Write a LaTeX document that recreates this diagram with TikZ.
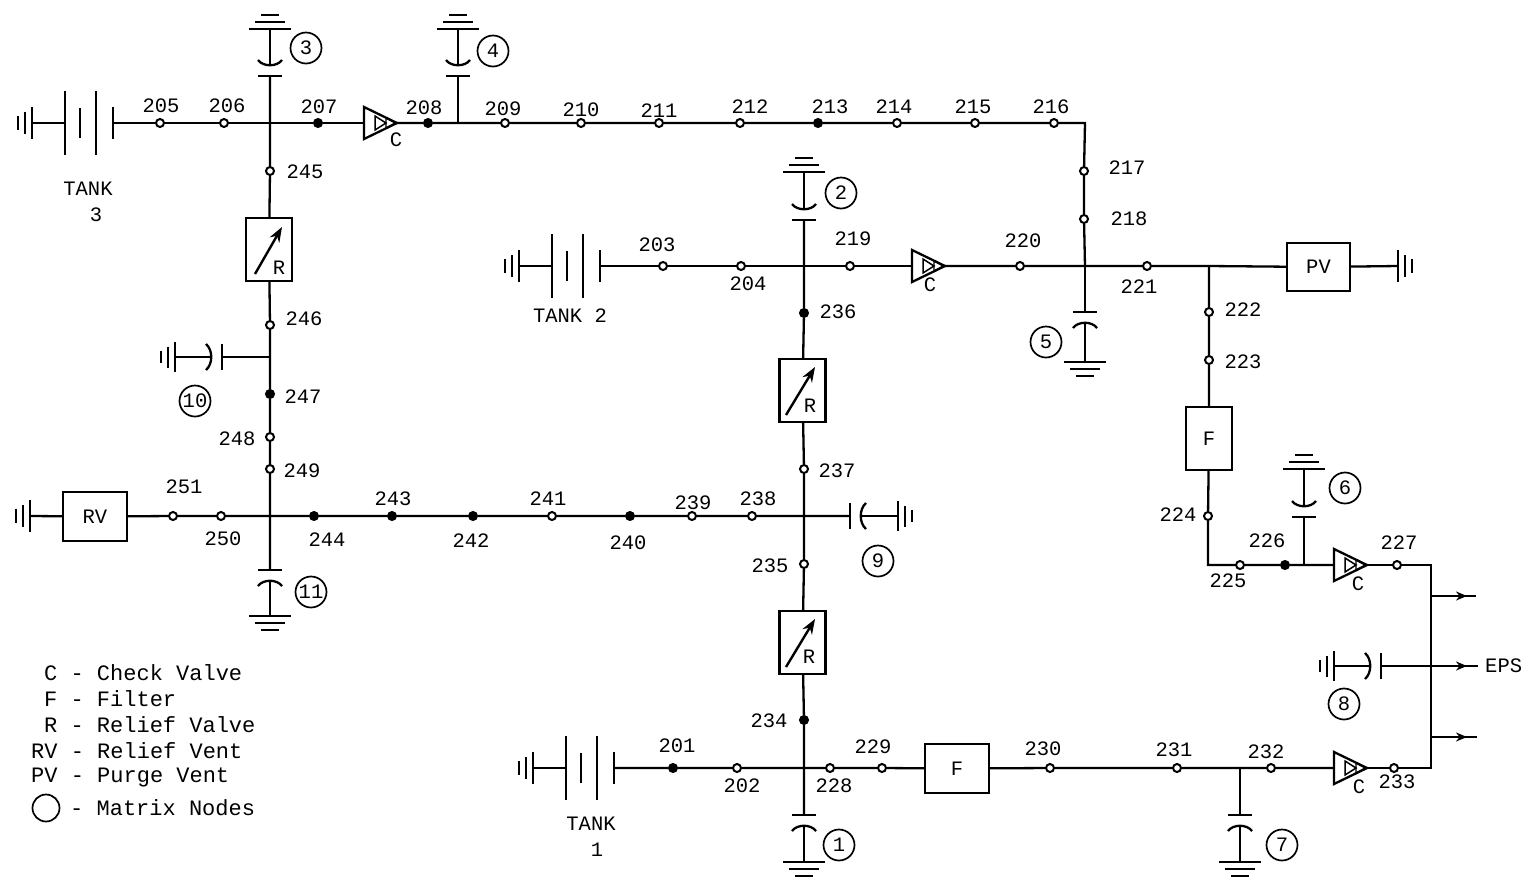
\documentclass[tikz,border=0pt]{standalone}
\usepackage{fontspec}
\usetikzlibrary{arrows.meta}
\newfontfamily\typew{Liberation Mono}
\newcommand{\labfont}{\fontsize{20.5}{24}\selectfont\typew}
\newcommand{\legfont}{\fontsize{22}{26}\selectfont\typew}
\tikzset{
  x=1pt,y=-1pt,
  wire/.style={line width=2.3pt},
  jo/.style={circle,draw,fill=white,inner sep=0pt,minimum size=8pt,line width=2pt},
  jc/.style={circle,draw,fill=black,inner sep=0pt,minimum size=9pt,line width=1pt},
  lbl/.style={font=\labfont,inner sep=0pt},
  leg/.style={font=\legfont,inner sep=0pt,anchor=west},
  mnode/.style={circle,draw,line width=1.7pt,minimum size=31pt,inner sep=0pt,font=\labfont},
  box/.style={rectangle,draw,line width=2.4pt,inner sep=0pt,font=\labfont},
  rvalve/.style={box,minimum width=46pt,minimum height=63pt},
  pics/gnd/.style={code={
    \draw[wire] (-#1,0)--(#1,0);
    \draw[wire] (-0.7*#1,7)--(0.7*#1,7);
    \draw[wire] (-0.42*#1,14)--(0.42*#1,14);
  }},
  pics/capa/.style={code={
    \coordinate (-a) at (0,0);
    \draw[wire] (-12,0)--(12,0);
    \draw[wire] (-12,16) .. controls (-7,9) and (7,9) .. (12,16);
    \draw[wire] (0,10)--(0,#1);
    \pic[transform shape] at (0,#1) {gnd=21};
  }},
  pics/capb/.style={code={
    \coordinate (-a) at (0,0);
    \draw[wire] (-13,0)--(13,0);
    \draw[wire] (-13,16) .. controls (-7,9) and (7,9) .. (13,16);
    \draw[wire] (0,10)--(0,#1);
    \pic[transform shape] at (0,#1) {gnd=15};
  }},
  pics/tank/.style={code={
    \coordinate (-end) at (48,0);
    \pic[rotate=-90] at (-33,0) {gnd=16};
    \draw[wire] (-33,0)--(0,0);
    \draw[wire] (0,-32)--(0,32);
    \draw[wire] (15,-15)--(15,15);
    \draw[wire] (31,-32)--(31,32);
    \draw[wire] (48,-16)--(48,16);
  }},
  pics/checkv/.style={code={
    \coordinate (-in) at (0,0);
    \coordinate (-out) at (33,0);
    \draw[wire,fill=white] (0,-16)--(0,16)--(33,0)--cycle;
    \draw[line width=1.5pt] (11,-7)--(11,7)--(22,0)--cycle;
    \draw[line width=1.2pt] (22,-5)--(22,5)--(31,0)--cycle;
  }}
}
\begin{document}
\begin{tikzpicture}
\useasboundingbox (0,0) rectangle (1524,879);

% junction marks
\foreach \n/\x/\y in {205/160/123,206/224/123,209/505/123,210/581/123,211/659/123,212/740/123,
  214/897/123,215/975/123,216/1054/123,217/1084/171,218/1084/219,245/270/171,246/270/325,
  248/270/437,249/270/469,251/173/516,250/221/516,241/552/516,239/692/516,238/752/516,
  203/663/266,204/741/266,219/850/266,220/1020/266,221/1147/266,222/1209/312,223/1209/360,
  224/1208/516,225/1240/565,227/1397/565,202/737/768,228/830/768,229/882/768,
  230/1050/768,231/1177/768,232/1271/768,233/1394/768,235/804/564,237/804/469}
  \node[jo] (p\n) at (\x,\y) {};
\foreach \n/\x/\y in {207/318/123,208/428/123,213/818/123,247/270/394,244/314/516,243/392/516,
  242/473/516,240/630/516,226/1285/565,201/673/768,236/804/313,234/804/720}
  \node[jc] (p\n) at (\x,\y) {};

% junction points of the pipes
\coordinate (x3) at (270,123);
\coordinate (x4) at (458,123);
\coordinate (c216) at (1085,123);
\coordinate (x5) at (1085,266);
\coordinate (x2) at (804,266);
\coordinate (xf) at (1209,266);
\coordinate (x10) at (270,357);
\coordinate (x11) at (270,516);
\coordinate (x9) at (804,516);
\coordinate (x1) at (804,768);
\coordinate (c224) at (1208,565);
\coordinate (x6) at (1304,565);
\coordinate (x7) at (1240,768);
\coordinate (tr) at (1431,565);
\coordinate (br) at (1431,768);
\coordinate (b1) at (1431,596);
\coordinate (b2) at (1431,666);
\coordinate (b3) at (1431,737);
\coordinate (o1m) at (1467,596);
\coordinate (o2m) at (1467,666);
\coordinate (o3m) at (1467,737);
\coordinate (o1) at (1476,596);
\coordinate (o2) at (1478,666);
\coordinate (o3) at (1477,737);

% boxes
\node[rvalve] (r3) at (269,249.5) {};
\node[rvalve] (r2) at (802.5,390.5) {};
\node[rvalve] (r1) at (802.5,642.5) {};
\node[box,minimum width=64pt,minimum height=49pt] (rv) at (95,516.5) {RV};
\node[box,minimum width=63pt,minimum height=48pt] (pv) at (1318.5,267) {PV};
\node[box,minimum width=46pt,minimum height=63pt] (f1) at (1209,438.5) {F};
\node[box,minimum width=64pt,minimum height=49pt] (f2) at (957,768.5) {F};

% tanks, capacitors, check valves
\pic (tk3) at (65,123) {tank};
\pic (tk2) at (552,266) {tank};
\pic (tk1) at (566,768) {tank};
\pic[rotate=180] (cp3) at (270,76) {capa=47};
\pic[rotate=180] (cp4) at (458,76) {capa=47};
\pic[rotate=180] (cp2) at (804,220) {capa=48};
\pic[rotate=180] (cp6) at (1304,517) {capa=48};
\pic (cp5) at (1085,312) {capa=50};
\pic (cp11) at (270,570) {capa=46};
\pic (cp1) at (804,815) {capa=47};
\pic (cp7) at (1240,815) {capa=47};
\pic[rotate=-90] (cp10) at (222,357) {capb=47};
\pic[rotate=-90] (cp8) at (1381,666) {capb=47};
\pic[rotate=90] (cp9) at (850,516) {capb=48};
\pic (cv3) at (364,123) {checkv};
\pic (cv2) at (912,266) {checkv};
\pic (cv6) at (1334,565) {checkv};
\pic (cv7) at (1334,768) {checkv};

% vents
\pic[rotate=-90] at (30,516) {gnd=16};
\pic[rotate=90] at (1398,266) {gnd=16};
\draw[wire] (30,516) -- (rv);
\draw[wire] (pv) -- (1398,266);

% pipes
\draw[wire] (tk3-end) -- (p205) (p205) -- (p206) (p206) -- (x3) -- (p207) (p207) -- (cv3-in);
\draw[wire] (cv3-out) -- (p208) (p208) -- (x4) -- (p209) (p209) -- (p210) (p210) -- (p211)
  (p211) -- (p212) (p212) -- (p213) (p213) -- (p214) (p214) -- (p215) (p215) -- (p216)
  (p216) -- (c216) -- (p217) (p217) -- (p218) (p218) -- (x5);
\draw[wire] (cp3-a) -- (x3) -- (p245) (p245) -- (r3) (r3) -- (p246) (p246) -- (x10) -- (p247)
  (p247) -- (p248) (p248) -- (p249) (p249) -- (x11) -- (cp11-a);
\draw[wire] (cp4-a) -- (x4);
\draw[wire] (cp10-a) -- (x10);
\draw[wire] (rv) -- (p251) (p251) -- (p250) (p250) -- (x11) -- (p244) (p244) -- (p243)
  (p243) -- (p242) (p242) -- (p241) (p241) -- (p240) (p240) -- (p239) (p239) -- (p238)
  (p238) -- (x9) -- (cp9-a);
\draw[wire] (tk2-end) -- (p203) (p203) -- (p204) (p204) -- (x2) -- (p219) (p219) -- (cv2-in);
\draw[wire] (cv2-out) -- (p220) (p220) -- (x5) -- (p221) (p221) -- (xf) -- (pv);
\draw[wire] (x5) -- (cp5-a);
\draw[wire] (cp2-a) -- (x2) -- (p236) (p236) -- (r2) (r2) -- (p237) (p237) -- (x9) -- (p235)
  (p235) -- (r1) (r1) -- (p234) (p234) -- (x1) -- (cp1-a);
\draw[wire] (xf) -- (p222) (p222) -- (p223) (p223) -- (f1) (f1) -- (p224) (p224) -- (c224)
  -- (p225) (p225) -- (p226) (p226) -- (x6) -- (cv6-in);
\draw[wire] (cp6-a) -- (x6);
\draw[wire] (cv6-out) -- (p227) (p227) -- (tr) -- (br) -- (p233) (p233) -- (cv7-out);
\draw[wire] (tk1-end) -- (p201) (p201) -- (p202) (p202) -- (x1) -- (p228) (p228) -- (p229)
  (p229) -- (f2) (f2) -- (p230) (p230) -- (p231) (p231) -- (x7) -- (p232) (p232) -- (cv7-in);
\draw[wire] (x7) -- (cp7-a);
\draw[wire] (cp8-a) -- (b2);
\draw[wire] (b1) -- (o1);
\draw[wire] (b2) -- (o2);
\draw[wire] (b3) -- (o3);
\draw[wire,-{Stealth[length=11pt,width=9pt]}] (b1) -- (o1m);
\draw[wire,-{Stealth[length=11pt,width=9pt]}] (b2) -- (o2m);
\draw[wire,-{Stealth[length=11pt,width=9pt]}] (b3) -- (o3m);

% relief valve arrows
\draw[line width=2.4pt,-{Stealth[length=15pt,width=11pt]}] (255,274) -- (282,227);
\draw[line width=2.4pt,-{Stealth[length=15pt,width=11pt]}] (786,415) -- (815,367);
\draw[line width=2.4pt,-{Stealth[length=15pt,width=11pt]}] (786,667) -- (815,619);
\node[lbl] (tr3) at (279,268) {R};
\node[lbl] (tr2) at (810,406) {R};
\node[lbl] (tr1) at (809,657) {R};

% point labels
\foreach \n/\x/\y in {205/161/106,206/227/106,207/319/107,208/424/108,209/503/109,210/581/110,
  211/659/111,212/750/107,213/830/107,214/894/107,215/973/107,216/1051/107,217/1127/168,
  218/1129/219,245/305/172,246/304/319,247/303/397,248/237/439,249/302/471,251/184/487,
  250/223/539,244/327/540,243/393/499,242/471/541,241/548/499,240/628/543,239/693/503,
  238/758/499,203/657/245,204/748/284,219/853/239,220/1023/241,221/1139/287,236/838/312,
  237/837/471,235/770/566,234/769/721,222/1243/310,223/1243/362,224/1178/515,225/1228/581,
  226/1267/541,227/1399/543,201/677/746,202/742/786,228/834/786,229/873/747,230/1043/749,
  231/1174/750,232/1266/752,233/1397/782}
  \node[lbl] (l\n) at (\x,\y) {\n};

% matrix nodes
\foreach \n/\x/\y in {1/839/845,2/841/193,3/306/48,4/493/51,5/1046/342,6/1345/488,7/1282/845,
  8/1344/704,9/878/561,10/195/401,11/311/592}
  \node[mnode] (m\n) at (\x,\y) {\n};

% other texts
\node[lbl] (t3a) at (88,189) {TANK};
\node[lbl] (t3b) at (96,215) {3};
\node[lbl] (t2) at (570,316) {TANK 2};
\node[lbl] (t1a) at (591,824) {TANK};
\node[lbl] (t1b) at (597,850) {1};
\node[lbl] (cl3) at (396,140) {C};
\node[lbl] (cl2) at (930,285) {C};
\node[lbl] (cl6) at (1358,584) {C};
\node[lbl] (cl7) at (1359,787) {C};
\node[lbl,anchor=west] (eps) at (1485,666) {EPS};

% legend
\node[leg] (lg1) at (44,673) {C - Check Valve};
\node[leg] (lg2) at (44,699) {F - Filter};
\node[leg] (lg3) at (44,725) {R - Relief Valve};
\node[leg] (lg4) at (31,751) {RV - Relief Vent};
\node[leg] (lg5) at (31,777) {PV - Purge Vent};
\node[circle,draw,line width=1.7pt,minimum size=27pt,inner sep=0pt] (lg6c) at (46,808) {};
\node[leg] (lg6) at (70,808) {- Matrix Nodes};
\end{tikzpicture}
\end{document}
